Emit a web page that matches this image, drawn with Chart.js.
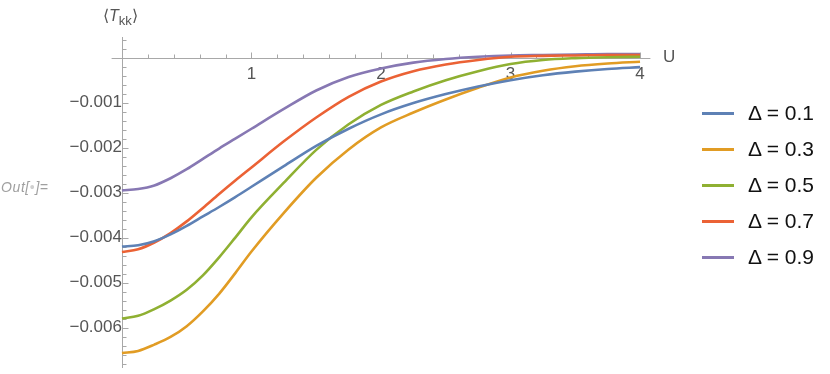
<!DOCTYPE html>
<html><head><meta charset="utf-8">
<script src="https://cdn.jsdelivr.net/npm/chart.js@4.4.0/dist/chart.umd.min.js"></script>
<style>
html,body{margin:0;padding:0;background:#fff;}
#wrap{position:relative;width:830px;height:374px;overflow:hidden;font-family:"Liberation Sans",Arial,sans-serif;}
#c{position:absolute;left:0;top:0;}
.lbl{position:absolute;white-space:nowrap;line-height:1;}
#ytitle{left:103px;top:8px;font-size:16px;color:#555;}
#ytitle sub{font-size:13px;vertical-align:-4px;line-height:0;}
#xtitle{left:663px;top:48px;font-size:17px;color:#555;}
#outlbl{left:1px;top:180px;font-size:14px;color:#a0a0a0;font-style:italic;letter-spacing:0.6px;}
#outlbl .dot{color:#d0d0d0;font-style:normal;}
#legend{position:absolute;left:702px;top:0;}
.item{position:absolute;left:0;height:24px;width:130px;}
.sw{position:absolute;left:0;top:11px;width:32px;height:3px;}
.tx{position:absolute;left:46px;top:1px;font-size:21px;color:#111;line-height:1;}
</style></head><body>
<div id="wrap">
<canvas id="c" width="830" height="374"></canvas>
<div id="ytitle" class="lbl">⟨<i>T</i><sub>kk</sub>⟩</div>
<div id="xtitle" class="lbl">U</div>
<div id="outlbl" class="lbl">Out[<span class="dot">•</span>]=</div>
<div id="legend"></div>
</div>
<script>
// ---- data ----
const uValues = [0, 0.125, 0.25, 0.375, 0.5, 0.625, 0.75, 0.875, 1.0, 1.25, 1.5, 1.75, 2.0, 2.25, 2.5, 2.75, 3.0, 3.25, 3.5, 3.75, 4.0];
const seriesLabels = ['Δ = 0.1', 'Δ = 0.3', 'Δ = 0.5', 'Δ = 0.7', 'Δ = 0.9'];
const delta01 = [-0.00420, -0.00417, -0.00408, -0.00393, -0.00374, -0.00353, -0.00332, -0.00310, -0.00287, -0.00241, -0.00196, -0.00158, -0.00126, -0.00101, -0.00081, -0.00064, -0.00050, -0.00039, -0.00031, -0.00025, -0.00021];
const delta03 = [-0.00657, -0.00652, -0.00638, -0.00621, -0.00597, -0.00564, -0.00525, -0.00479, -0.00431, -0.00345, -0.00267, -0.00204, -0.00155, -0.00122, -0.00093, -0.00067, -0.00044, -0.00029, -0.00019, -0.00013, -0.00009];
const delta05 = [-0.00580, -0.00574, -0.00559, -0.00540, -0.00516, -0.00484, -0.00444, -0.00400, -0.00355, -0.00278, -0.00205, -0.00148, -0.00105, -0.00075, -0.00050, -0.00030, -0.00014, -0.00005, -0.00001, 0.00001, 0.00002];
const delta07 = [-0.00432, -0.00426, -0.00411, -0.00390, -0.00364, -0.00334, -0.00303, -0.00273, -0.00244, -0.00186, -0.00133, -0.00087, -0.00053, -0.00030, -0.00015, -0.00005, 0.00002, 0.00004, 0.00005, 0.00006, 0.00006];
const delta09 = [-0.00295, -0.00292, -0.00284, -0.00268, -0.00248, -0.00225, -0.00202, -0.00180, -0.00158, -0.00114, -0.00073, -0.00043, -0.00024, -0.00011, -0.00003, 0.00002, 0.00005, 0.00006, 0.00007, 0.00008, 0.00008];
const xTickValues = [1, 2, 3, 4];
const yTickValues = [-0.001, -0.002, -0.003, -0.004, -0.005, -0.006];
const yTickLabels = ['−0.001', '−0.002', '−0.003', '−0.004', '−0.005', '−0.006'];

const seriesColors = ['#5E81B5', '#E19C24', '#8FB032', '#EB6235', '#8778B3'];
const seriesData = [delta01, delta03, delta05, delta07, delta09];
const axisColor = '#a8a8a8';

const axesPlugin = {
  id: 'mmaAxes',
  beforeDatasetsDraw(chart) {
    const {ctx, scales: {x, y}} = chart;
    const x0 = Math.round(x.getPixelForValue(0)) + 0.5;
    const y0 = Math.round(y.getPixelForValue(0)) + 0.5;
    ctx.save();
    ctx.strokeStyle = axisColor;
    ctx.lineWidth = 1;
    const ln = (a, b, c, d) => { ctx.beginPath(); ctx.moveTo(a, b); ctx.lineTo(c, d); ctx.stroke(); };
    ln(x.left, y0, x.right, y0);
    ln(x0, y.top, x0, y.bottom);
    for (let i = 1; i * 0.2 <= x.max + 1e-9; i++) {
      const px = Math.round(x.getPixelForValue(i * 0.2)) + 0.5;
      ln(px, y0, px, y0 - (i % 5 === 0 ? 6 : 4));
    }
    for (let i = Math.floor(y.max / 0.0002); i * 0.0002 >= y.min - 1e-12; i--) {
      if (i === 0) continue;
      const py = Math.round(y.getPixelForValue(i * 0.0002)) + 0.5;
      ln(x0, py, x0 + (i % 5 === 0 ? 6 : 4), py);
    }
    ctx.restore();
  }
};

const chart = new Chart(document.getElementById('c'), {
  type: 'line',
  data: {
    labels: uValues,
    datasets: seriesLabels.map((lab, i) => ({
      label: lab,
      data: uValues.map((u, j) => ({x: u, y: seriesData[i][j]})),
      borderColor: seriesColors[i],
      borderWidth: 2.6,
      pointRadius: 0,
      fill: false,
      cubicInterpolationMode: 'monotone'
    }))
  },
  options: {
    responsive: false,
    animation: false,
    layout: {padding: {left: 111.6, right: 179.6, top: 37, bottom: 6}},
    plugins: {legend: {display: false}, tooltip: {enabled: false}},
    scales: {
      x: {
        type: 'linear', min: -0.08, max: 4.08,
        position: {y: 0},
        grid: {display: false, drawTicks: false},
        border: {display: false},
        afterBuildTicks: s => { s.ticks = xTickValues.map(v => ({value: v})); },
        afterFit: s => { s.paddingLeft = 0; s.paddingRight = 0; },
        ticks: {padding: 6, color: '#555', font: {family: 'Liberation Sans', size: 17}, maxRotation: 0, autoSkip: false,
          callback: v => String(v)}
      },
      y: {
        type: 'linear', min: -0.0069, max: 0.00046,
        position: {x: 0},
        grid: {display: false, drawTicks: false},
        border: {display: false},
        afterBuildTicks: s => { s.ticks = yTickValues.map(v => ({value: v})); },
        afterFit: s => { s.paddingTop = 0; s.paddingBottom = 0; },
        ticks: {padding: 7, color: '#555', font: {family: 'Liberation Sans', size: 17}, autoSkip: false,
          callback: v => { const k = yTickValues.findIndex(t => Math.abs(t - v) < 1e-9); return k >= 0 ? yTickLabels[k] : ''; }}
      }
    }
  },
  plugins: [axesPlugin]
});

const leg = document.getElementById('legend');
seriesLabels.forEach((lab, i) => {
  const it = document.createElement('div');
  it.className = 'item';
  it.style.top = (101 + 36 * i) + 'px';
  it.innerHTML = '<div class="sw" style="background:' + seriesColors[i] + '"></div><div class="tx">' + lab + '</div>';
  leg.appendChild(it);
});
</script>
</body></html>
